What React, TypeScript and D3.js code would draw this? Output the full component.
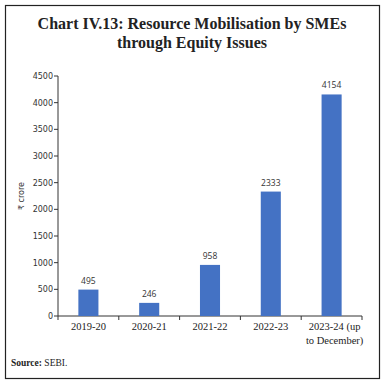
import React from "react";
import * as d3 from "d3";

const categories = ["2019-20", "2020-21", "2021-22", "2022-23", "2023-24 (up|to December)"];
const values = [495, 246, 958, 2333, 4154];
const yTicks = [0, 500, 1000, 1500, 2000, 2500, 3000, 3500, 4000, 4500];

export default function App() {
  const W = 386, H = 386;
  const left = 58, right = 362, top = 76, bottom = 316;
  const x = d3.scaleBand().domain(categories).range([left, right]).paddingInner(0.67).paddingOuter(0.335);
  const y = d3.scaleLinear().domain([0, 4500]).range([bottom, top]);
  const band = d3.scaleBand().domain(categories).range([left, right]);
  return (
    <svg width={W} height={H} style={{ position: "absolute", left: 0, top: 0 }}>
      <rect x={0} y={0} width={W} height={H} fill="#fff" />
      <rect x={5.5} y={5.5} width={374} height={373} fill="none" stroke="#222" strokeWidth={1.2} />
      <text x={192} y={29} textAnchor="middle" fontFamily="'Liberation Serif', serif" fontWeight="bold" fontSize={16} fill="#222">Chart IV.13: Resource Mobilisation by SMEs</text>
      <text x={192} y={47.5} textAnchor="middle" fontFamily="'Liberation Serif', serif" fontWeight="bold" fontSize={16} fill="#222">through Equity Issues</text>
      {/* y axis */}
      <line x1={left} x2={left} y1={top} y2={bottom} stroke="#333" strokeWidth={1} />
      {yTicks.map(t => (
        <g key={t}>
          <line x1={left - 4} x2={left} y1={y(t)} y2={y(t)} stroke="#333" />
          <text x={left - 5} y={y(t) + 3} textAnchor="end" fontFamily="'DejaVu Sans', sans-serif" fontSize={8} fill="#333">{t}</text>
        </g>
      ))}
      <text transform={`translate(24,${(top + bottom) / 2}) rotate(-90)`} textAnchor="middle" fontFamily="'DejaVu Sans', sans-serif" fontSize={8} fill="#333">₹ crore</text>
      {/* x axis */}
      <line x1={left} x2={right} y1={bottom} y2={bottom} stroke="#333" />
      {categories.map((c, i) => (
        <line key={"t" + i} x1={band(c)!} x2={band(c)!} y1={bottom} y2={bottom + 4} stroke="#333" />
      ))}
      <line x1={right} x2={right} y1={bottom} y2={bottom + 4} stroke="#333" />
      {categories.map((c, i) => {
        const lines = c.split("|");
        const cx = x(c)! + x.bandwidth() / 2;
        return (
          <g key={c}>
            <rect x={x(c)!} y={y(values[i])} width={x.bandwidth()} height={bottom - y(values[i])} fill="#4472C4" />
            <text x={cx} y={y(values[i]) - 6} textAnchor="middle" fontFamily="'Open Sans', sans-serif" fontSize={8.5} fill="#333">{values[i]}</text>
            {lines.map((l, j) => (
              <text key={j} x={cx + (lines.length > 1 ? 3 : 0)} y={330 + j * 14} textAnchor="middle" fontFamily="'Liberation Serif', serif" fontSize={10.5} fill="#222">{l}</text>
            ))}
          </g>
        );
      })}
      <text x={11} y={366} fontFamily="'Liberation Serif', serif" fontSize={9.5} fill="#222"><tspan fontWeight="bold">Source:</tspan> SEBI.</text>
    </svg>
  );
}
